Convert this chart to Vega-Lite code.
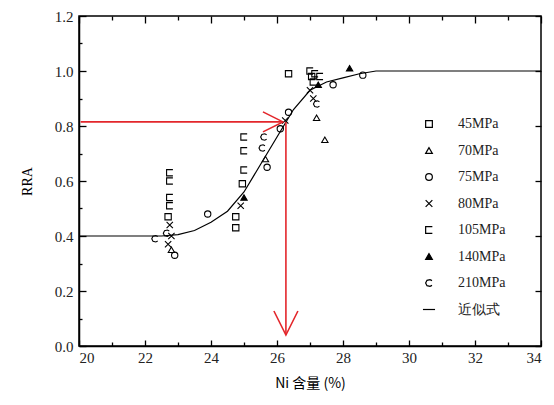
{
  "$schema": "https://vega.github.io/schema/vega-lite/v6.json",
  "autosize": {"type": "none"},
  "width": 462,
  "height": 330,
  "padding": {"left": 79, "top": 16, "right": 13, "bottom": 59},
  "background": "white",
  "config": {
    "view": {"stroke": "black", "strokeWidth": 1.5},
    "font": "Liberation Serif",
    "axis": {"labelFont": "Liberation Serif", "labelFontSize": 15, "labelColor": "#222", "domainColor": "black", "domainWidth": 1.5, "ticks": false, "gridColor": "black", "gridWidth": 1.3, "gridOpacity": 1}
  },
  "datasets": {
    "pts": [
      {"ni": 22.75, "rra": 0.63, "series": "105MPa"},
      {"ni": 22.75, "rra": 0.60, "series": "105MPa"},
      {"ni": 22.75, "rra": 0.54, "series": "105MPa"},
      {"ni": 22.75, "rra": 0.51, "series": "105MPa"},
      {"ni": 22.7, "rra": 0.47, "series": "45MPa"},
      {"ni": 22.75, "rra": 0.44, "series": "80MPa"},
      {"ni": 22.8, "rra": 0.40, "series": "80MPa"},
      {"ni": 22.7, "rra": 0.37, "series": "80MPa"},
      {"ni": 22.8, "rra": 0.35, "series": "70MPa"},
      {"ni": 22.65, "rra": 0.41, "series": "210MPa"},
      {"ni": 22.3, "rra": 0.39, "series": "210MPa"},
      {"ni": 22.9, "rra": 0.33, "series": "75MPa"},
      {"ni": 23.9, "rra": 0.48, "series": "75MPa"},
      {"ni": 25.0, "rra": 0.76, "series": "105MPa"},
      {"ni": 25.0, "rra": 0.71, "series": "105MPa"},
      {"ni": 25.0, "rra": 0.64, "series": "105MPa"},
      {"ni": 24.95, "rra": 0.59, "series": "45MPa"},
      {"ni": 25.0, "rra": 0.54, "series": "140MPa"},
      {"ni": 24.9, "rra": 0.51, "series": "80MPa"},
      {"ni": 24.75, "rra": 0.47, "series": "45MPa"},
      {"ni": 24.75, "rra": 0.43, "series": "45MPa"},
      {"ni": 25.6, "rra": 0.76, "series": "210MPa"},
      {"ni": 25.55, "rra": 0.72, "series": "210MPa"},
      {"ni": 25.65, "rra": 0.68, "series": "70MPa"},
      {"ni": 25.7, "rra": 0.65, "series": "75MPa"},
      {"ni": 26.1, "rra": 0.79, "series": "75MPa"},
      {"ni": 26.25, "rra": 0.82, "series": "80MPa"},
      {"ni": 26.35, "rra": 0.85, "series": "75MPa"},
      {"ni": 26.35, "rra": 0.99, "series": "45MPa"},
      {"ni": 27.0, "rra": 1.0, "series": "105MPa"},
      {"ni": 27.15, "rra": 0.99, "series": "105MPa"},
      {"ni": 27.3, "rra": 0.98, "series": "105MPa"},
      {"ni": 27.1, "rra": 0.96, "series": "105MPa"},
      {"ni": 27.05, "rra": 0.98, "series": "45MPa"},
      {"ni": 27.0, "rra": 0.93, "series": "80MPa"},
      {"ni": 27.1, "rra": 0.90, "series": "80MPa"},
      {"ni": 27.25, "rra": 0.95, "series": "140MPa"},
      {"ni": 27.2, "rra": 0.88, "series": "210MPa"},
      {"ni": 27.2, "rra": 0.83, "series": "70MPa"},
      {"ni": 27.45, "rra": 0.75, "series": "70MPa"},
      {"ni": 27.7, "rra": 0.95, "series": "75MPa"},
      {"ni": 28.2, "rra": 1.01, "series": "140MPa"},
      {"ni": 28.6, "rra": 0.985, "series": "75MPa"}
    ],
    "curve": [
      {"ni": 20, "rra": 0.40}, {"ni": 22.5, "rra": 0.40}, {"ni": 23, "rra": 0.405},
      {"ni": 23.5, "rra": 0.42}, {"ni": 24, "rra": 0.45}, {"ni": 24.5, "rra": 0.49},
      {"ni": 25, "rra": 0.56}, {"ni": 25.5, "rra": 0.66}, {"ni": 26, "rra": 0.76},
      {"ni": 26.5, "rra": 0.86}, {"ni": 27, "rra": 0.93}, {"ni": 27.5, "rra": 0.96},
      {"ni": 28, "rra": 0.975}, {"ni": 28.5, "rra": 0.99}, {"ni": 29, "rra": 1.0},
      {"ni": 34, "rra": 1.0}
    ],
    "arrowLines": [
      {"xa": 20.05, "ya": 0.815, "xb": 26.18, "yb": 0.815},
      {"xa": 26.27, "ya": 0.815, "xb": 26.27, "yb": 0.04}
    ],
    "headRight": [{"x": 26.18, "y": 0.815}],
    "headDown": [{"x": 26.27, "y": 0.04}]
  },
  "layer": [
    {
      "data": {"name": "curve"},
      "mark": {"type": "line", "color": "black", "strokeWidth": 1.2},
      "encoding": {
        "x": {"field": "ni", "type": "quantitative", "scale": {"domain": [20, 34], "nice": false},
              "axis": {"orient": "top", "labels": false, "title": null, "domain": false, "grid": true,
                       "values": [20,21,22,23,24,25,26,27,28,29,30,31,32,33,34],
                       "gridDash": {"condition": {"test": "datum.value % 2 === 0", "value": [6, 2000]}, "value": [4, 2000]}}},
        "y": {"field": "rra", "type": "quantitative", "scale": {"domain": [0, 1.2], "nice": false},
              "axis": {"orient": "right", "labels": false, "title": null, "domain": false, "grid": true,
                       "values": [0,0.2,0.4,0.6,0.8,1.0,1.2], "gridDash": [6, 2000]}}
      }
    },
    {
      "data": {"name": "pts"},
      "mark": {"type": "point", "size": 40, "opacity": 1, "strokeWidth": 1.1},
      "encoding": {
        "x": {"field": "ni", "type": "quantitative",
              "axis": {"orient": "bottom", "title": "Ni 含量 (%)", "titleFont": "Noto Sans CJK SC", "titleFontSize": 14, "titleFontWeight": "normal", "titlePadding": 11,
                       "values": [20,21,22,23,24,25,26,27,28,29,30,31,32,33,34],
                       "labelExpr": "datum.value % 2 === 0 ? datum.label : ''",
                       "grid": true,
                       "gridDash": {"condition": {"test": "datum.value % 2 === 0", "value": [7, 2000]}, "value": [4, 2000]},
                       "labelPadding": 4}},
        "y": {"field": "rra", "type": "quantitative",
              "axis": {"orient": "left", "title": "RRA", "titleFontSize": 14, "titleFontWeight": "normal", "titlePadding": 20,
                       "values": [0,0.1,0.2,0.3,0.4,0.5,0.6,0.7,0.8,0.9,1.0,1.1,1.2], "format": ".1f",
                       "labelExpr": "abs(datum.value*5 - round(datum.value*5)) < 0.01 ? datum.label : ''",
                       "grid": true,
                       "gridDash": {"condition": {"test": "abs(datum.value*5 - round(datum.value*5)) < 0.01", "value": [7, 2000]}, "value": [3, 2000]},
                       "labelPadding": 6}},
        "shape": {"field": "series", "type": "nominal",
                  "scale": {"domain": ["45MPa","70MPa","75MPa","80MPa","105MPa","140MPa","210MPa","近似式"],
                            "range": ["square","triangle-up","circle","M-1,-1L1,1M-1,1L1,-1","M1,-1L-1,-1L-1,1L1,1","triangle-up","M0.9,-0.7L0.3,-1L-0.6,-0.8L-1,0L-0.6,0.8L0.3,1L0.9,0.7","M-1.8,0L1.8,0"]},
                  "legend": {"title": null, "orient": "none", "legendX": 343, "legendY": 101, "labelFont": "Liberation Serif", "labelFontSize": 14, "labelColor": "#222", "rowPadding": 12.5, "symbolSize": 45, "symbolStrokeWidth": 1.2, "labelOffset": 22}},
        "fill": {"field": "series", "type": "nominal",
                 "scale": {"domain": ["45MPa","70MPa","75MPa","80MPa","105MPa","140MPa","210MPa","近似式"],
                           "range": ["transparent","transparent","transparent","transparent","transparent","black","transparent","transparent"]}},
        "stroke": {"field": "series", "type": "nominal",
                 "scale": {"domain": ["45MPa","70MPa","75MPa","80MPa","105MPa","140MPa","210MPa","近似式"],
                           "range": ["black","black","black","black","black","black","black","black"]}}
      }
    },
    {
      "data": {"name": "arrowLines"},
      "mark": {"type": "rule", "color": "#e3262b", "strokeWidth": 1.6},
      "encoding": {
        "x": {"field": "xa", "type": "quantitative", "axis": null},
        "y": {"field": "ya", "type": "quantitative", "axis": null},
        "x2": {"field": "xb"},
        "y2": {"field": "yb"}
      }
    },
    {
      "data": {"name": "headRight"},
      "mark": {"type": "point", "shape": "M-2,-1L0,0L-2,1", "size": 400, "stroke": "#e3262b", "strokeWidth": 1.6, "filled": false, "opacity": 1},
      "encoding": {
        "x": {"field": "x", "type": "quantitative", "axis": null},
        "y": {"field": "y", "type": "quantitative", "axis": null}
      }
    },
    {
      "data": {"name": "headDown"},
      "mark": {"type": "point", "shape": "M-1.2,-2.4L0,0L1.2,-2.4", "size": 400, "stroke": "#e3262b", "strokeWidth": 1.6, "filled": false, "opacity": 1},
      "encoding": {
        "x": {"field": "x", "type": "quantitative", "axis": null},
        "y": {"field": "y", "type": "quantitative", "axis": null}
      }
    }
  ],
  "resolve": {"axis": {"x": "independent", "y": "independent"}}
}
